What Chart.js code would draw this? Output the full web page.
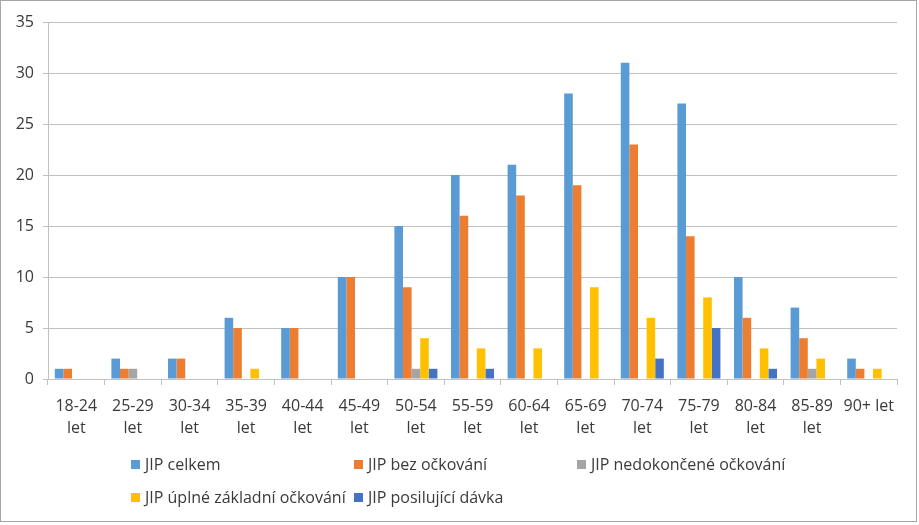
<!DOCTYPE html>
<html>
<head>
<meta charset="utf-8">
<script src="https://cdn.jsdelivr.net/npm/chart.js@4"></script>
<style>
    body { margin: 0; background: #fff; }
    #wrap { position: relative; width: 919px; height: 525px; }
    #frame { position: absolute; left: 0; top: 0; width: 915px; height: 520px; border: 1px solid #a6a6a6; pointer-events: none; }
    #legend { position: absolute; left: 0; top: 0; font-family: "Open Sans", "Noto Sans", sans-serif; font-size: 16px; color: #3a3a3a; }
    .item { position: absolute; white-space: nowrap; display: flex; align-items: center; }
    .box { width: 9px; height: 9px; margin-right: 5px; }
</style>
</head>
<body>
<div id="wrap">
    <canvas id="chart" width="919" height="525"></canvas>
    <div id="legend"></div>
    <div id="frame"></div>
</div>
<script>
const ageGroups = [
    ["18-24", "let"], ["25-29", "let"], ["30-34", "let"], ["35-39", "let"], ["40-44", "let"],
    ["45-49", "let"], ["50-54", "let"], ["55-59", "let"], ["60-64", "let"], ["65-69", "let"],
    ["70-74", "let"], ["75-79", "let"], ["80-84", "let"], ["85-89", "let"], "90+ let"
];

const seriesNames = ["JIP celkem", "JIP bez očkování", "JIP nedokončené očkování", "JIP úplné základní očkování", "JIP posilující dávka"];
const seriesColors = ["#5b9bd5", "#ed7d31", "#a5a5a5", "#ffc000", "#4472c4"];

const jipCelkem    = [1, 2, 2, 6, 5, 10, 15, 20, 21, 28, 31, 27, 10, 7, 2];
const jipBez       = [1, 1, 2, 5, 5, 10, 9, 16, 18, 19, 23, 14, 6, 4, 1];
const jipNedok     = [0, 1, 0, 0, 0, 0, 1, 0, 0, 0, 0, 0, 0, 1, 0];
const jipUplne     = [0, 0, 0, 1, 0, 0, 4, 3, 3, 9, 6, 8, 3, 2, 1];
const jipPosilujici = [0, 0, 0, 0, 0, 0, 1, 1, 0, 0, 2, 5, 1, 0, 0];

const yTicks = { min: 0, max: 35, step: 5 };

const allSeries = [jipCelkem, jipBez, jipNedok, jipUplne, jipPosilujici];

const textColor = "#3a3a3a";
const gridColor = "#c0c0c0";
const fontFamily = '"Open Sans", "Noto Sans", sans-serif';

new Chart(document.getElementById('chart'), {
    type: 'bar',
    data: {
        labels: ageGroups,
        datasets: allSeries.map((values, i) => ({
            label: seriesNames[i],
            data: values,
            backgroundColor: seriesColors[i],
            borderWidth: 0,
            barPercentage: 1.0,
            categoryPercentage: 0.76
        }))
    },
    options: {
        responsive: false,
        animation: false,
        layout: { padding: { top: 22, right: 22, left: 0, bottom: 0 } },
        plugins: {
            legend: { display: false },
            tooltip: { enabled: false }
        },
        scales: {
            x: {
                grid: {
                    offset: true,
                    drawOnChartArea: false,
                    color: gridColor,
                    tickLength: 6
                },
                border: { color: gridColor },
                ticks: {
                    color: textColor,
                    font: { family: fontFamily, size: 16, lineHeight: 1.4 },
                    padding: 10,
                    maxRotation: 0,
                    autoSkip: false
                },
                afterFit: scale => { scale.height = 146; }
            },
            y: {
                min: yTicks.min,
                max: yTicks.max,
                grid: {
                    color: gridColor,
                    tickLength: 5
                },
                border: { color: gridColor },
                ticks: {
                    stepSize: yTicks.step,
                    color: textColor,
                    font: { family: fontFamily, size: 16 },
                    padding: 9
                },
                afterFit: scale => { scale.width = 48; }
            }
        }
    }
});

// legend laid out like the original's grid, three entries per row
const legend = document.getElementById('legend');
seriesNames.forEach((name, i) => {
    const item = document.createElement('div');
    item.className = 'item';
    item.style.left = (131 + (i % 3) * 223) + 'px';
    item.style.top = (453 + Math.floor(i / 3) * 33) + 'px';
    const box = document.createElement('span');
    box.className = 'box';
    box.style.background = seriesColors[i];
    item.appendChild(box);
    item.appendChild(document.createTextNode(name));
    legend.appendChild(item);
});
</script>
</body>
</html>
